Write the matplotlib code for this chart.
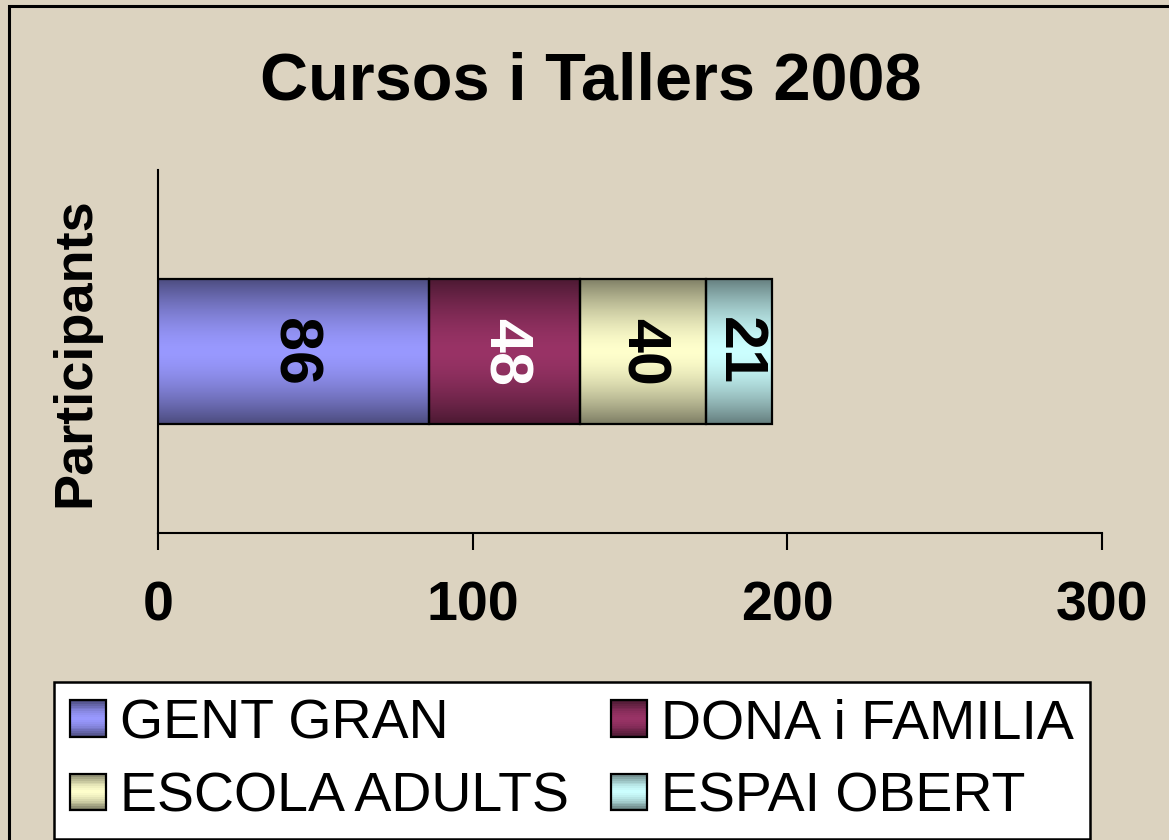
import numpy as np
import matplotlib
matplotlib.use("Agg")
import matplotlib.pyplot as plt
from matplotlib.patches import Rectangle
from matplotlib.legend_handler import HandlerBase
from matplotlib.colors import to_rgb

plt.rcParams['font.family'] = ['Liberation Sans', 'DejaVu Sans']

# data
categories = ['GENT GRAN', 'DONA i FAMILIA', 'ESCOLA ADULTS', 'ESPAI OBERT']
values = [86, 48, 40, 21]
light = ['#9999FF', '#993366', '#FFFFCC', '#CCFFFF']
label_colors = ['black', 'white', 'black', 'black']
xticks = [0, 100, 200, 300]
bg = '#DCD3C0'


def grad_img(c, n=64):
    # dark at top and bottom, light in the middle
    t = np.abs(np.linspace(-1, 1, n))
    f = 1 - 0.5 * t**1.6
    rgb = np.array(to_rgb(c))
    return (f[:, None] * rgb[None, :])[:, None, :]


class GradHandler(HandlerBase):
    def __init__(self, color):
        super().__init__()
        self.color = color

    def create_artists(self, legend, orig_handle, xdescent, ydescent,
                       width, height, fontsize, trans):
        side = height
        x0 = -xdescent
        y0 = -ydescent
        arts = []
        n = 20
        img = grad_img(self.color, n)[:, 0, :]
        for k in range(n):
            r = Rectangle((x0, y0 + side * k / n), side, side / n + 0.3,
                          facecolor=img[k], edgecolor='none', transform=trans)
            arts.append(r)
        arts.append(Rectangle((x0, y0), side, side, facecolor='none',
                              edgecolor='black', linewidth=1.6, transform=trans))
        return arts


fig = plt.figure(figsize=(11.69, 8.4), dpi=100)
fig.patch.set_facecolor(bg)
ax = fig.add_axes([158/1169, 1-533/840, (1102-158)/1169, (533-170)/840])
ax.set_facecolor('none')

left = 0
bars = []
for v, c in zip(values, light):
    b = ax.barh(0, v, left=left, height=0.4, color=c, edgecolor='black',
                linewidth=1.6, zorder=3)[0]
    bars.append(b)
    left += v

for b, c, lc, v in zip(bars, light, label_colors, values):
    x, y, w, h = b.get_x(), b.get_y(), b.get_width(), b.get_height()
    im = ax.imshow(grad_img(c), extent=[x, x + w, y, y + h], aspect='auto',
                   zorder=3.5, interpolation='bilinear')
    im.set_clip_path(b)
    b.set_facecolor('none')
    b.set_zorder(4)
    ax.text(x + w / 2, y + h / 2, str(v), rotation=-90, ha='center', va='center',
            fontsize=44, fontweight='bold', color=lc, zorder=5)

ax.set_xlim(0, 300)
ax.set_ylim(-0.5, 0.5)
ax.set_xticks(xticks)
ax.set_xticklabels([str(t) for t in xticks], fontsize=40, fontweight='bold')
ax.set_yticks([])
ax.tick_params(axis='x', direction='out', length=12, width=1.5, pad=22)
for s in ['top', 'right']:
    ax.spines[s].set_visible(False)
for s in ['left', 'bottom']:
    ax.spines[s].set_linewidth(1.5)

fig.text(75/1169, 1-352/840, 'Participants', rotation=90, ha='center', va='center',
         fontsize=39, fontweight='bold')
fig.text(591/1169, 1-82/840, 'Cursos i Tallers 2008', ha='center', va='center',
         fontsize=48, fontweight='bold')

# legend fills row by row in the reference: reorder for matplotlib's column fill
order = [0, 2, 1, 3]
handles = [Rectangle((0, 0), 1, 1) for _ in categories]
hmap = {h: GradHandler(c) for h, c in zip(handles, light)}
leg = fig.legend(handles=[handles[i] for i in order],
                 labels=[categories[i] for i in order], ncol=2, loc='upper left',
                 bbox_to_anchor=(54/1169, 1-835/840, (1090-54)/1169, 153/840),
                 mode='expand', borderaxespad=0,
                 fontsize=40, frameon=True, fancybox=False, handler_map=hmap,
                 handlelength=0.63, handleheight=0.63, handletextpad=0.27,
                 columnspacing=0.45, borderpad=0.29, labelspacing=0.38)
leg.get_frame().set_edgecolor('black')
leg.get_frame().set_linewidth(1.8)
leg.get_frame().set_facecolor('white')
leg.get_frame().set_alpha(1)

fig.patches.append(Rectangle((9/1169, -0.1), 1.2, 1-6/840+0.1, transform=fig.transFigure,
                             facecolor='none', edgecolor='black', linewidth=2.2))

fig.savefig('out.png', dpi=100, facecolor=bg)
